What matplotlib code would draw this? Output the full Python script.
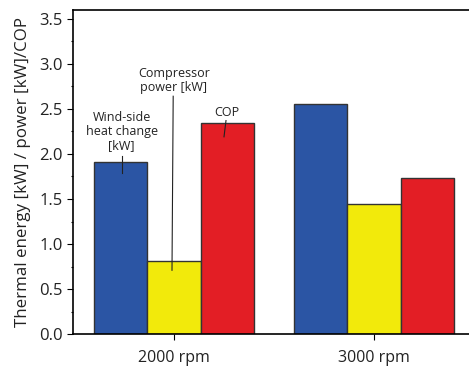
import numpy as np
import matplotlib.pyplot as plt
from matplotlib.ticker import MultipleLocator

plt.rcParams['font.family'] = ['Open Sans', 'DejaVu Sans']

categories = ["2000 rpm", "3000 rpm"]
series_names = ["Wind-side\nheat change\n[kW]", "Compressor\npower [kW]", "COP"]
heat_change = [1.91, 2.555]
compressor_power = [0.81, 1.45]
cop = [2.34, 1.73]

colors = ["#2b55a4", "#f2ea0b", "#e31e25"]
width = 0.267

fig = plt.figure(figsize=(4.69, 3.66), dpi=100)
ax = fig.add_axes([0.155, 0.0866, 0.845, 0.887])

x = np.arange(len(categories))
for i, (vals, c) in enumerate(zip([heat_change, compressor_power, cop], colors)):
    ax.bar(x + (i - 1) * width, vals, width, color=c, edgecolor="#333333",
           linewidth=1.0, zorder=2)

ax.set_xlim(-0.5065, 1.475)
ax.set_ylim(0, 3.6)
ax.set_xticks(x)
ax.set_xticklabels(categories, fontsize=11.5, color="#222222")
ax.yaxis.set_minor_locator(MultipleLocator(0.25))
ticks = np.arange(0, 3.51, 0.5)
ax.set_yticks(ticks)
ax.set_yticklabels([f"{v:.1f}" for v in ticks], fontsize=12, color="#222222")
ax.tick_params(axis="y", which="major", length=4.3, width=0.8, pad=3)
ax.tick_params(axis="y", which="minor", length=1.5, width=0.8)
ax.tick_params(axis="x", length=4, width=0.8, direction="out", pad=7)
ax.spines["right"].set_visible(False)
for s in ["left", "top", "bottom"]:
    ax.spines[s].set_linewidth(1.2)
ax.set_ylabel("Thermal energy [kW] / power [kW]/COP", fontsize=12.2,
              labelpad=6, color="#222222")

# callout labels for the 2000 rpm group
lc = "#222222"
ax.text(-0.262, 2.02, series_names[0], ha="center", va="bottom", fontsize=9,
        linespacing=1.1, color=lc)
ax.plot([-0.262, -0.262], [1.98, 1.79], color=lc, lw=0.8)
ax.text(0.0, 2.67, series_names[1], ha="center", va="bottom", fontsize=9,
        linespacing=1.1, color=lc)
ax.plot([-0.004, -0.01], [2.64, 0.71], color=lc, lw=0.8)
ax.text(0.263, 2.39, series_names[2], ha="center", va="bottom", fontsize=9,
        color=lc)
ax.plot([0.26, 0.25], [2.37, 2.19], color=lc, lw=0.8)

fig.savefig("out.png", dpi=100)
